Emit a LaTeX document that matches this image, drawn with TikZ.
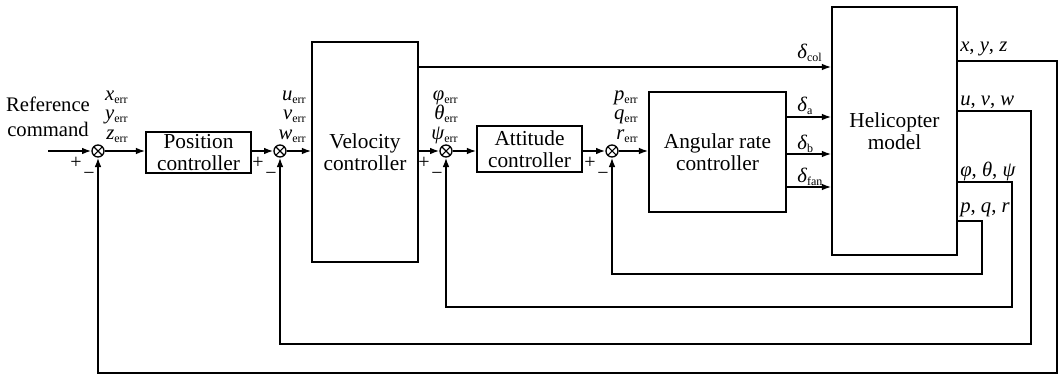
\documentclass[tikz,border=0pt]{standalone}
\usepackage{fontspec}
\setmainfont{Liberation Serif}
\usetikzlibrary{arrows.meta}

\newcommand\sbs[1]{\raisebox{-0.35ex}{\fontsize{9}{9}\selectfont #1}}
\newcommand\blockfont{\fontsize{16}{16.5}\selectfont}
\newcommand\stackfont{\fontsize{15.5}{14.6}\selectfont}

\begin{document}
\begin{tikzpicture}[x=0.75pt,y=-0.75pt,
  block/.style={draw,line width=1.2pt,align=center,font=\blockfont,inner sep=0pt},
  sumnode/.style={draw,circle,line width=1pt,minimum size=9pt,inner sep=0pt,
    path picture={\draw[line width=0.8pt] (path picture bounding box.north west) -- (path picture bounding box.south east)
      (path picture bounding box.north east) -- (path picture bounding box.south west);}},
  arr/.style={line width=1.2pt,-{Latex[length=7pt,width=5pt]}},
  lbl/.style={inner sep=0pt,align=left,font=\stackfont},
  errlbl/.style={inner sep=0pt,align=right,font=\stackfont,anchor=base east},
  sgn/.style={inner sep=0pt,font=\fontsize{15}{15}\selectfont}]
  \useasboundingbox (0,0) rectangle (1059,375);

  % blocks
  \node[block,minimum width=78.75pt,minimum height=30.75pt] (pos) at (198.5,152.5) {Position\\controller};
  \node[block,minimum width=79.5pt,minimum height=165pt] (vel) at (365,152) {Velocity\\controller};
  \node[block,minimum width=78.75pt,minimum height=34.5pt] (att) at (529.5,149) {Attitude\\controller};
  \node[block,minimum width=102.75pt,minimum height=90pt] (ang) at (717.5,152) {Angular rate\\controller};
  \node[block,minimum width=93.75pt,minimum height=186pt] (heli) at (894.5,131) {Helicopter\\model};

  % summing junctions
  \node[sumnode] (s1) at (98,151) {};
  \node[sumnode] (s2) at (280,151) {};
  \node[sumnode] (s3) at (446,151) {};
  \node[sumnode] (s4) at (612,151) {};

  \node[sgn] (s1p) at ([shift={(-22,12)}]s1) {+};
  \node[sgn] (s1m) at ([shift={(-9,25)}]s1) {−};
  \node[sgn] (s2p) at ([shift={(-22,12)}]s2) {+};
  \node[sgn] (s2m) at ([shift={(-9,25)}]s2) {−};
  \node[sgn] (s3p) at ([shift={(-22,12)}]s3) {+};
  \node[sgn] (s3m) at ([shift={(-9,25)}]s3) {−};
  \node[sgn] (s4p) at ([shift={(-22,12)}]s4) {+};
  \node[sgn] (s4m) at ([shift={(-9,25)}]s4) {−};

  % reference input
  \node[align=center,inner sep=0pt,font=\fontsize{15.5}{18.75}\selectfont] (ref) at (48,117) {Reference\\command};
  \coordinate (in) at (48,151);

  % forward path
  \draw[arr] (in) -- (s1);
  \draw[arr] (s1) -- (s1 -| pos.west);
  \draw[arr] (pos.east |- s2) -- (s2);
  \draw[arr] (s2) -- (s2 -| vel.west);
  \draw[arr] (vel.east |- s3) -- (s3);
  \draw[arr] (s3) -- (s3 -| att.west);
  \draw[arr] (att.east |- s4) -- (s4);
  \draw[arr] (s4) -- (s4 -| ang.west);
  \draw[arr] (vel.east |- 0,67) -- (heli.west |- 0,67);
  \draw[arr] (ang.east |- 0,117) -- (heli.west |- 0,117);
  \draw[arr] (ang.east |- 0,154) -- (heli.west |- 0,154);
  \draw[arr] (ang.east |- 0,187) -- (heli.west |- 0,187);

  % feedback loops
  \draw[arr] (heli.east |- 0,61) -| (1057,373) -| (s1.south);
  \draw[arr] (heli.east |- 0,111) -| (1031,344) -| (s2.south);
  \draw[arr] (heli.east |- 0,182) -| (1012,307) -| (s3.south);
  \draw[arr] (heli.east |- 0,221) -| (982,274) -| (s4.south);

  % error signals
  \node[errlbl] (e1) at (128,139) {\textit{x}\sbs{err}\\\textit{y}\sbs{err}\\\textit{z}\sbs{err}};
  \node[errlbl] (e2) at (306,139) {\textit{u}\sbs{err}\\\textit{v}\sbs{err}\\\textit{w}\sbs{err}};
  \node[errlbl] (e3) at (458,139) {\textit{φ}\sbs{err}\\\textit{θ}\sbs{err}\\\textit{ψ}\sbs{err}};
  \node[errlbl] (e4) at (638,139) {\textit{p}\sbs{err}\\\textit{q}\sbs{err}\\\textit{r}\sbs{err}};

  % control inputs
  \node[lbl,anchor=base west] (dcol) at (797,58) {\textit{δ}\sbs{col}};
  \node[lbl,anchor=base west] (da) at (797,111) {\textit{δ}\sbs{a}};
  \node[lbl,anchor=base west] (db) at (797,149) {\textit{δ}\sbs{b}};
  \node[lbl,anchor=base west] (dfan) at (797,182) {\textit{δ}\sbs{fan}};

  % outputs
  \node[lbl,anchor=base west] (oxyz) at (960,51) {\textit{x}, \textit{y}, \textit{z}};
  \node[lbl,anchor=base west] (ouvw) at (960,105) {\textit{u}, \textit{v}, \textit{w}};
  \node[lbl,anchor=base west] (oatt) at (960,176) {\textit{φ}, \textit{θ}, \textit{ψ}};
  \node[lbl,anchor=base west] (opqr) at (960,212) {\textit{p}, \textit{q}, \textit{r}};
\end{tikzpicture}
\end{document}
